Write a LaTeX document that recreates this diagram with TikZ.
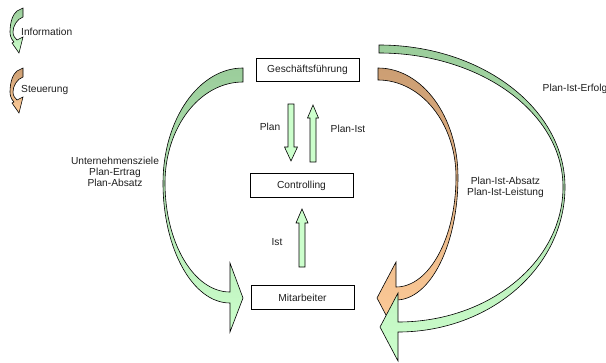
\documentclass[tikz,border=0pt]{standalone}
\usepackage{fontspec}
\setmainfont{Liberation Sans}
\definecolor{gdark}{RGB}{155,205,155}
\definecolor{glight}{RGB}{204,255,204}
\definecolor{odark}{RGB}{204,158,115}
\definecolor{olight}{RGB}{255,204,153}
\definecolor{txt}{RGB}{30,30,30}
\newcommand\lblfont{\fontsize{10.2}{11}\selectfont}
\tikzset{
  box/.style={draw=black, line width=0.6pt, fill=white, minimum width=103pt, minimum height=23.5pt, inner sep=0pt, font=\lblfont, text=txt},
  lbl/.style={font=\lblfont, text=txt, inner sep=0pt},
  barrow/.style={draw=black, line width=0.6pt, fill=glight, line join=miter},
  gband/.style={draw=black, line width=0.6pt, top color=gdark, bottom color=glight},
  oband/.style={draw=black, line width=0.6pt, top color=odark, bottom color=olight}
}
\begin{document}
\begin{tikzpicture}[x=1pt,y=1pt,yscale=-1]
\useasboundingbox (0,0) rectangle (606,362);

% legend icons
\path[gband] (17,11) -- (23,8) -- (23,17) .. controls (17,19) and (13,26) .. (13,32) .. controls (13,36) and (15,38) .. (17,40) -- (23,37) -- (19,53) -- (12,43) -- (14,42) .. controls (11,39) and (10,35) .. (10,32) .. controls (10,22) and (13,14) .. (17,11) -- cycle;
\begin{scope}[shift={(0,60)}]
\path[oband] (17,11) -- (23,8) -- (23,17) .. controls (17,19) and (13,26) .. (13,32) .. controls (13,36) and (15,38) .. (17,40) -- (23,37) -- (19,53) -- (12,43) -- (14,42) .. controls (11,39) and (10,35) .. (10,32) .. controls (10,22) and (13,14) .. (17,11) -- cycle;
\end{scope}
\node[lbl, anchor=west] (linfo) at (21,32) {Information};
\node[lbl, anchor=west] (lsteu) at (21,90) {Steuerung};

% left curved arrow
\path[gband] (243,68) arc[start angle=270,end angle=180,x radius=80pt,y radius=115pt]
  arc[start angle=180,end angle=90,x radius=67pt,y radius=120pt]
  -- (230,332) -- (243,298) -- (230,263) -- (230,292)
  arc[start angle=90,end angle=180,x radius=65pt,y radius=109pt]
  arc[start angle=180,end angle=270,x radius=78pt,y radius=101pt] -- cycle;

% right orange curved arrow
\path[oband] (378,68) arc[start angle=270,end angle=360,x radius=80pt,y radius=109pt]
  arc[start angle=0,end angle=90,x radius=62pt,y radius=123pt]
  -- (396,334) -- (377,298) -- (396,262) -- (396,287)
  arc[start angle=90,end angle=0,x radius=60pt,y radius=110pt]
  arc[start angle=360,end angle=270,x radius=78pt,y radius=97pt] -- cycle;

% right green curved arrow
\path[gband] (379,45) arc[start angle=270,end angle=360,x radius=186pt,y radius=142pt]
  arc[start angle=0,end angle=90,x radius=167pt,y radius=145pt]
  -- (398,361) -- (380,327) -- (398,293) -- (398,322)
  arc[start angle=90,end angle=0,x radius=165pt,y radius=135pt]
  arc[start angle=360,end angle=270,x radius=184pt,y radius=134pt] -- cycle;

% boxes
\node[box] (gf) at (307.5,69.8) {Geschäftsführung};
\node[box] (ctrl) at (301.5,185.5) {Controlling};
\node[box] (mit) at (302.5,297.5) {Mitarbeiter};

% block arrows
\path[barrow] (288,104) -- (294,104) -- (294,147) -- (297.5,147) -- (291,161) -- (284.5,147) -- (288,147) -- cycle;
\path[barrow] (310,162) -- (316,162) -- (316,118) -- (318.5,118) -- (313,105) -- (307.5,118) -- (310,118) -- cycle;
\path[barrow] (299,267) -- (305,267) -- (305,223) -- (308,223) -- (302,209) -- (296,223) -- (299,223) -- cycle;

% labels
\node[lbl] (lplan) at (270,127) {Plan};
\node[lbl] (lplanist) at (348,129) {Plan-Ist};
\node[lbl] (list) at (277,242) {Ist};
\node[lbl, align=center] (lleft) at (115,172) {Unternehmensziele\\Plan-Ertrag\\Plan-Absatz};
\node[lbl, align=center] (lright) at (505.5,187.5) {Plan-Ist-Absatz\\Plan-Ist-Leistung};
\node[lbl, anchor=west] (lerfolg) at (542.5,89) {Plan-Ist-Erfolg};
\end{tikzpicture}
\end{document}
